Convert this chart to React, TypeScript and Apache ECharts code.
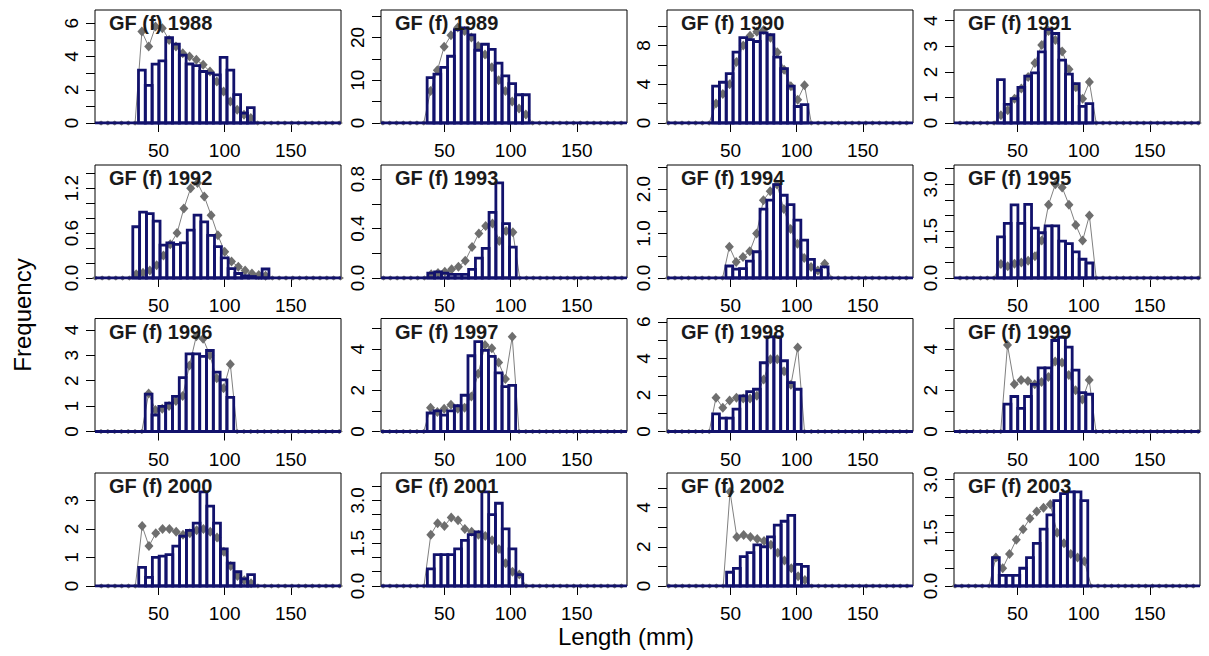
import React, { useEffect, useRef } from 'react';
import * as echarts from 'echarts';

// ---------- data ----------
const YEARS = ['1988', '1989', '1990', '1991', '1992', '1993', '1994', '1995', '1996', '1997', '1998', '1999', '2000', '2001', '2002', '2003'];
const BIN_WIDTH = 5.15;
const X_MIN = 1.9;
const X_MAX = 188;
const X_TICKS = [50, 100, 150];

// left edge of first non-empty length bin (mm)
const BAR_START = [34.8, 36.8, 36.4, 34.8, 30.5, 37.3, 46.5, 34.8, 39.9, 36.8, 36.4, 39.8, 35.0, 37.0, 47.0, 31.0];

const bars1988 = [3.18, 2.27, 3.54, 3.74, 5.13, 4.75, 4.09, 3.55, 3.45, 3.1, 3.0, 2.9, 3.95, 3.18, 1.71, 0.6, 0.93];
const gray1988 = [5.5, 4.6, 5.8, 5.7, 5.0, 4.6, 4.2, 4.0, 3.8, 3.5, 3.1, 2.5, 1.9, 1.3, 0.8, 0.5, 0.3];
const bars1989 = [10.6, 11.4, 13.0, 15.6, 21.8, 22.2, 20.6, 17.0, 18.4, 17.2, 14.0, 11.0, 9.2, 6.6, 6.6];
const gray1989 = [7.5, 12.3, 17.8, 20.5, 22.3, 21.5, 20.0, 18.0, 16.0, 13.0, 10.0, 7.5, 5.0, 3.4, 2.0];
const bars1990 = [3.8, 4.2, 5.1, 7.3, 8.8, 8.6, 8.4, 9.3, 9.1, 6.8, 5.6, 3.8, 1.7, 1.9];
const gray1990 = [2.0, 3.0, 4.0, 6.3, 8.0, 9.0, 9.4, 9.6, 8.8, 7.3, 5.5, 3.8, 2.4, 3.9];
const bars1991 = [1.7, 0.73, 0.95, 1.39, 1.83, 1.96, 2.78, 3.66, 3.5, 2.46, 1.91, 1.54, 0.65, 0.76];
const gray1991 = [0.3, 0.5, 0.95, 1.35, 1.8, 2.35, 3.05, 3.6, 3.25, 2.8, 2.1, 1.4, 0.95, 1.6];
const bars1992 = [0.685, 0.88, 0.86, 0.76, 0.44, 0.47, 0.45, 0.47, 0.64, 0.84, 0.75, 0.57, 0.42, 0.27, 0.125, 0.06, 0.03, 0.02, 0.0, 0.12];
const gray1992 = [0.05, 0.07, 0.1, 0.17, 0.3, 0.45, 0.6, 0.93, 1.2, 1.27, 1.09, 0.84, 0.57, 0.35, 0.22, 0.15, 0.1, 0.06, 0.04, 0.03];
const bars1993 = [0.04, 0.05, 0.04, 0.03, 0.03, 0.03, 0.07, 0.16, 0.24, 0.53, 0.77, 0.44, 0.25];
const gray1993 = [0.03, 0.04, 0.05, 0.07, 0.09, 0.14, 0.25, 0.36, 0.42, 0.44, 0.3, 0.38, 0.37];
const bars1994 = [0.27, 0.2, 0.21, 0.38, 0.59, 1.55, 1.75, 2.1, 1.86, 1.65, 1.3, 0.85, 0.42, 0.17, 0.25];
const gray1994 = [0.7, 0.36, 0.47, 0.6, 1.0, 1.75, 1.95, 2.1, 1.55, 1.1, 0.77, 0.45, 0.25, 0.17, 0.32];
const bars1995 = [1.32, 1.75, 2.34, 1.75, 2.36, 1.6, 1.45, 1.67, 1.67, 1.18, 1.1, 0.84, 0.6, 0.48];
const gray1995 = [0.45, 0.38, 0.46, 0.5, 0.55, 0.7, 1.2, 2.35, 3.0, 2.9, 2.35, 1.7, 1.2, 2.0];
const bars1996 = [1.47, 0.65, 0.99, 1.12, 1.38, 2.12, 3.06, 3.06, 2.96, 3.19, 2.34, 2.03, 1.34];
const gray1996 = [1.5, 0.85, 0.9, 1.0, 1.2, 1.4, 2.6, 3.75, 3.65, 3.0, 2.1, 1.7, 2.65];
const bars1997 = [0.9, 1.0, 0.8, 1.0, 1.25, 1.76, 3.68, 4.37, 3.94, 3.65, 2.85, 2.18, 2.24];
const gray1997 = [1.15, 0.95, 1.1, 1.3, 1.1, 1.15, 1.7, 2.8, 4.2, 4.05, 3.35, 2.55, 4.6];
const bars1998 = [0.96, 0.73, 0.73, 1.22, 1.95, 2.18, 2.31, 3.76, 5.18, 5.18, 3.87, 2.67, 2.31];
const gray1998 = [1.85, 1.3, 1.7, 1.85, 1.8, 1.8, 1.95, 2.85, 3.95, 3.95, 3.3, 2.55, 4.6];
const bars1999 = [1.33, 1.7, 1.12, 1.7, 2.29, 3.09, 3.09, 4.42, 4.58, 4.1, 2.98, 1.89, 1.81];
const gray1999 = [4.2, 2.3, 2.5, 2.45, 2.3, 2.4, 2.65, 3.4, 3.35, 2.75, 2.0, 1.55, 2.5];
const bars2000 = [0.65, 0.3, 1.0, 1.05, 1.1, 1.4, 1.75, 1.95, 2.2, 3.3, 2.8, 2.2, 1.3, 0.8, 0.5, 0.25, 0.4];
const gray2000 = [2.1, 1.4, 1.85, 2.0, 2.0, 1.9, 1.8, 1.85, 1.95, 2.0, 1.9, 1.7, 1.2, 0.7, 0.35, 0.2, 0.1];
const bars2001 = [0.6, 1.1, 1.1, 1.1, 1.3, 1.6, 1.8, 1.9, 3.3, 2.5, 2.9, 2.0, 1.3, 0.4];
const gray2001 = [1.8, 2.2, 2.1, 2.4, 2.3, 2.0, 1.9, 1.8, 1.75, 1.6, 1.3, 0.8, 0.5, 0.4];
const bars2002 = [0.7, 0.9, 1.5, 1.7, 2.1, 2.0, 2.5, 3.1, 3.3, 3.6, 1.1, 1.0];
const gray2002 = [4.8, 2.5, 2.6, 2.5, 2.4, 2.3, 2.1, 1.7, 1.3, 0.9, 0.5, 0.3];
const bars2003 = [0.8, 0.3, 0.3, 0.3, 0.5, 0.8, 1.2, 1.6, 2.0, 2.4, 2.6, 2.65, 2.65, 2.4];
const gray2003 = [0.8, 0.5, 0.9, 1.3, 1.6, 1.9, 2.1, 2.2, 2.3, 1.5, 1.2, 0.9, 0.8, 0.7];

const BARS = [bars1988, bars1989, bars1990, bars1991, bars1992, bars1993, bars1994, bars1995, bars1996, bars1997, bars1998, bars1999, bars2000, bars2001, bars2002, bars2003];
const GRAY = [gray1988, gray1989, gray1990, gray1991, gray1992, gray1993, gray1994, gray1995, gray1996, gray1997, gray1998, gray1999, gray2000, gray2001, gray2002, gray2003];

// y axis: upper limit, tick values, labelled values, decimals
const Y_MAX = [6.8, 26.4, 11.65, 4.42, 1.51, 0.914, 2.54, 3.62, 4.45, 5.49, 6.18, 5.49, 3.96, 3.96, 5.76, 3.18];
const Y_TICKS = [
  [0, 1, 2, 3, 4, 5, 6], [0, 5, 10, 15, 20, 25], [0, 2, 4, 6, 8, 10], [0, 1, 2, 3, 4],
  [0, 0.2, 0.4, 0.6, 0.8, 1.0, 1.2, 1.4], [0, 0.2, 0.4, 0.6, 0.8], [0, 0.5, 1.0, 1.5, 2.0, 2.5], [0, 0.5, 1.0, 1.5, 2.0, 2.5, 3.0, 3.5],
  [0, 1, 2, 3, 4], [0, 1, 2, 3, 4, 5], [0, 1, 2, 3, 4, 5, 6], [0, 1, 2, 3, 4, 5],
  [0, 1, 2, 3], [0, 0.5, 1.0, 1.5, 2.0, 2.5, 3.0, 3.5], [0, 1, 2, 3, 4, 5], [0, 0.5, 1.0, 1.5, 2.0, 2.5, 3.0],
];
const Y_LABELS = [
  [0, 2, 4, 6], [0, 10, 20], [0, 4, 8], [0, 1, 2, 3, 4],
  [0, 0.6, 1.2], [0, 0.4, 0.8], [0, 1, 2], [0, 1.5, 3],
  [0, 1, 2, 3, 4], [0, 2, 4], [0, 2, 4, 6], [0, 2, 4],
  [0, 1, 2, 3], [0, 1.5, 3], [0, 2, 4], [0, 1.5, 3],
];
const Y_DECIMALS = [0, 0, 0, 0, 1, 1, 1, 1, 0, 0, 0, 0, 0, 1, 0, 1];

// ---------- layout / style ----------
const COL_LEFT = [95, 381, 667, 954];
const ROW_TOP = [10, 165, 318.5, 473];
const PANEL_W = 246;
const PANEL_H = 113;
const FONT = '"Liberation Sans", Arial, Helvetica, sans-serif';
const NAVY = '#12126c';
const GRAY_C = '#6e6e6e';

function buildOption() {
  const grid: any[] = [];
  const xAxis: any[] = [];
  const yAxis: any[] = [];
  const series: any[] = [];
  const graphic: any[] = [];

  YEARS.forEach((year, i) => {
    const left = COL_LEFT[i % 4];
    const top = ROW_TOP[Math.floor(i / 4)];
    grid.push({ left, top, width: PANEL_W, height: PANEL_H, show: true, borderColor: '#000', borderWidth: 1, backgroundColor: 'transparent', containLabel: false });
    xAxis.push({
      gridIndex: i, type: 'value', min: X_MIN, max: X_MAX,
      splitLine: { show: false }, axisLine: { show: false },
      axisTick: { show: true, customValues: X_TICKS, length: 9, inside: false, lineStyle: { color: '#000', width: 1 } },
      axisLabel: { customValues: X_TICKS, margin: 18, fontSize: 19, color: '#000', fontFamily: FONT },
    });
    const dec = Y_DECIMALS[i];
    yAxis.push({
      gridIndex: i, type: 'value', min: 0, max: Y_MAX[i],
      splitLine: { show: false }, axisLine: { show: false },
      axisTick: { show: true, customValues: Y_TICKS[i], length: 9, lineStyle: { color: '#000', width: 1 } },
      axisLabel: {
        customValues: Y_LABELS[i], rotate: 90, margin: 14, fontSize: 19, color: '#000', fontFamily: FONT,
        formatter: (v: number) => v.toFixed(dec),
      },
    });

    const start = BAR_START[i];
    const barVals = BARS[i];
    const grayVals = GRAY[i];
    const barData = barVals.map((h, k) => [start + k * BIN_WIDTH, start + (k + 1) * BIN_WIDTH, h]);

    // gray expected-frequency line, padded with zeros across the whole length range
    const grayData: number[][] = [];
    let kLeft = -1;
    while (start + (kLeft + 0.5) * BIN_WIDTH > X_MIN) kLeft--;
    for (let k = kLeft + 1; k < 0; k++) grayData.push([start + (k + 0.5) * BIN_WIDTH, 0]);
    grayVals.forEach((v, k) => grayData.push([start + (k + 0.5) * BIN_WIDTH, v]));
    for (let k = grayVals.length; start + (k + 0.5) * BIN_WIDTH < X_MAX; k++) grayData.push([start + (k + 0.5) * BIN_WIDTH, 0]);

    series.push({
      type: 'line', xAxisIndex: i, yAxisIndex: i, data: grayData, z: 2,
      symbol: 'diamond', showSymbol: true,
      symbolSize: (val: number[]) => (val[1] === 0 ? [7, 5] : [9, 10]),
      itemStyle: { color: GRAY_C }, lineStyle: { color: '#808080', width: 1 }, silent: true,
    });
    series.push({
      type: 'line', xAxisIndex: i, yAxisIndex: i, data: [[X_MIN, 0], [X_MAX, 0]], z: 3,
      symbol: 'none', lineStyle: { color: NAVY, width: 3 }, silent: true,
    });
    series.push({
      type: 'custom', xAxisIndex: i, yAxisIndex: i, data: barData, z: 4, silent: true,
      encode: { x: [0, 1], y: 2 },
      renderItem: (params: any, api: any) => {
        const p0 = api.coord([api.value(0), api.value(2)]);
        const p1 = api.coord([api.value(1), 0]);
        return {
          type: 'rect',
          shape: { x: p0[0], y: p0[1], width: p1[0] - p0[0], height: p1[1] - p0[1] },
          style: { fill: 'none', stroke: NAVY, lineWidth: 2.8 },
        };
      },
    });

    graphic.push({
      type: 'text', left: left + 14, top: top + 3, z: 100,
      style: { text: 'GF (f) ' + year, font: 'bold 20px ' + FONT, fill: '#1a1a1a' },
    });
  });

  graphic.push({
    type: 'text', x: 22, y: 315, rotation: Math.PI / 2,
    style: { text: 'Frequency', font: '24px ' + FONT, fill: '#000', textAlign: 'center', textVerticalAlign: 'middle' },
  });
  graphic.push({
    type: 'text', x: 626, y: 636,
    style: { text: 'Length (mm)', font: '24px ' + FONT, fill: '#000', textAlign: 'center', textVerticalAlign: 'middle' },
  });

  return { animation: false, backgroundColor: '#fff', grid, xAxis, yAxis, series, graphic };
}

export default function App() {
  const ref = useRef<HTMLDivElement>(null);
  useEffect(() => {
    if (!ref.current) return;
    const chart = echarts.init(ref.current, undefined, { renderer: 'svg' });
    chart.setOption(buildOption() as any);
    return () => chart.dispose();
  }, []);
  return <div ref={ref} style={{ position: 'fixed', left: 0, top: 0, width: 1209, height: 656, background: '#fff' }} />;
}
